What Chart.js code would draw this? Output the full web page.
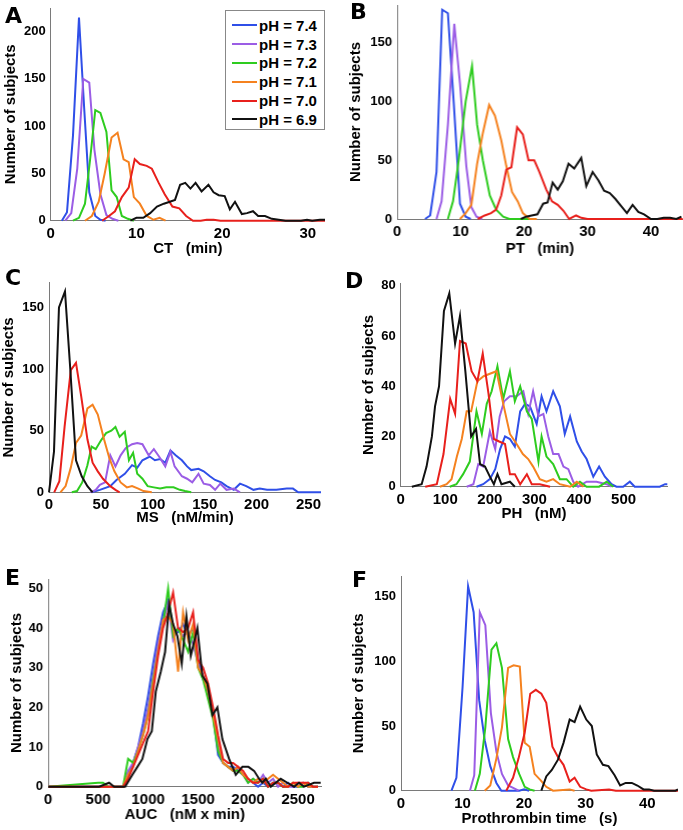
<!DOCTYPE html>
<html>
<head>
<meta charset="utf-8">
<script src="https://cdn.jsdelivr.net/npm/chart.js@4.4.1/dist/chart.umd.min.js"></script>
<style>
  body { margin: 0; background: #fff; }
  #fig { position: relative; width: 683px; height: 830px; overflow: hidden; font-family: "Liberation Sans", Arial, sans-serif; }
  .panel { position: absolute; }
  .letter { position: absolute; font: bold 22px "DejaVu Sans", sans-serif; line-height: 22px; color: #000; }
  #legend { position: absolute; left: 225px; top: 10px; width: 100px; height: 120px; box-sizing: border-box;
            border: 1px solid #888; background: #fff; padding-top: 5px; }
  #legend .row { height: 18.8px; display: flex; align-items: center; font-weight: bold; font-size: 15px; }
  #legend .swatch { width: 25px; height: 2px; margin-left: 6px; margin-right: 2px; }
</style>
</head>
<body>
<div id="fig"></div>
<script>
(function () {
  const phLabels = ['pH = 7.4', 'pH = 7.3', 'pH = 7.2', 'pH = 7.1', 'pH = 7.0', 'pH = 6.9'];
  const phColors = ['#2f4fe8', '#9b5de5', '#2ecc1f', '#f5821f', '#e8201c', '#111111'];

  /** A: CT (min) */
  const ct74x = [1.3, 1.9, 2.6, 3.3, 3.9, 4.5, 5.2, 5.8, 6.4];
  const ct74y = [0, 9, 90, 215, 120, 30, 5, 1, 0];
  const ct73x = [1.7, 2.4, 3.1, 3.8, 4.5, 5.1, 5.8, 6.5, 7.2, 7.9];
  const ct73y = [0, 8, 55, 150, 146, 75, 28, 6, 2, 0];
  const ct72x = [2.6, 3.3, 4.0, 4.6, 5.2, 5.8, 6.5, 7.1, 7.7, 8.3, 9.0, 9.7];
  const ct72y = [0, 3, 18, 65, 117, 114, 94, 32, 25, 5, 2, 0];
  const ct71x = [4.0, 4.8, 5.6, 6.3, 7.1, 7.8, 8.5, 9.1, 9.7, 10.4, 11.2, 12.0, 12.7, 13.4];
  const ct71y = [0, 5, 20, 50, 88, 93, 65, 62, 25, 18, 5, 1, 3, 0];
  const ct70x = [6.0, 6.8, 7.5, 8.3, 9.1, 9.8, 10.4, 11.2, 11.8, 12.6, 13.3, 14.2, 15.0, 15.8, 16.6, 17.5, 18.2, 19.0, 19.8, 32];
  const ct70y = [0, 5, 10, 25, 35, 65, 60, 58, 55, 40, 28, 15, 13, 5, 0, 0, 1, 1, 0, 0];
  const ct69x = [9.3, 10.0, 10.8, 11.6, 12.4, 13.2, 13.9, 14.5, 15.1, 15.7, 16.3, 16.9, 17.6, 18.4, 19.0, 19.6, 20.3, 20.9, 21.5, 22.3, 22.9, 23.6, 24.2, 25.0, 25.8, 26.6, 27.4, 29.2, 29.9, 30.5, 31.4, 32];
  const ct69y = [0, 3, 3, 8, 15, 18, 20, 22, 38, 40, 34, 40, 31, 38, 30, 27, 26, 12, 20, 7, 8, 10, 5, 5, 2, 1, 0, 0, 1, 0, 1, 1];
  const ctXTicks = [0, 10, 20, 30];
  const ctYTicks = [0, 50, 100, 150, 200];

  /** B: PT (min) */
  const pt74x = [4.4, 5.2, 6.2, 7.1, 8.0, 8.9, 9.9, 10.8, 11.6];
  const pt74y = [0, 3, 40, 178, 175, 100, 13, 2, 0];
  const pt73x = [6.2, 7.0, 8.0, 9.0, 9.9, 10.9, 11.7, 12.5, 13.4];
  const pt73y = [0, 15, 80, 166, 115, 45, 10, 2, 0];
  const pt72x = [8.0, 8.8, 9.7, 10.8, 11.8, 12.6, 13.5, 14.6, 15.6, 16.7, 17.7, 21.6];
  const pt72y = [0, 15, 50, 100, 130, 80, 50, 20, 8, 2, 0, 0];
  const pt71x = [9.9, 10.8, 11.7, 12.6, 13.5, 14.5, 15.4, 16.4, 17.2, 18.1, 19.0, 19.8, 20.9, 22.0];
  const pt71y = [0, 5, 12, 47, 73, 97, 88, 67, 45, 23, 15, 5, 0, 0];
  const pt70x = [12.7, 13.8, 14.8, 15.6, 16.4, 17.2, 18.0, 18.9, 19.8, 20.7, 21.6, 22.4, 23.5, 24.4, 25.3, 26.2, 27.1, 28.2, 29.0, 30.0, 45];
  const pt70y = [0, 3, 5, 8, 20, 42, 44, 78, 72, 50, 50, 40, 25, 15, 12, 7, 0, 3, 1, 0, 0];
  const pt69x = [19.5, 20.3, 21.2, 22.1, 23.0, 23.7, 24.5, 25.3, 26.1, 27.0, 27.9, 29.0, 29.8, 30.8, 31.7, 32.6, 33.5, 34.4, 35.3, 36.2, 37.1, 38.0, 38.9, 40.0, 41.0, 42.0, 43.0, 44.0, 44.8];
  const pt69y = [0, 2, 3, 4, 13, 14, 31, 25, 32, 47, 43, 52, 28, 40, 33, 24, 22, 17, 11, 5, 12, 6, 4, 0, 0, 1, 1, 0, 2];
  const ptXTicks = [0, 10, 20, 30, 40];
  const ptYTicks = [0, 50, 100, 150];

  /** C: MS (nM/min) */
  const ms74x = [41, 49, 59, 65, 73, 80, 85, 90, 97, 102, 107, 112, 117, 122, 128, 133, 137, 144, 149, 155, 160, 166, 171, 178, 184, 190, 197, 203, 210, 219, 229, 235, 240, 262];
  const ms74y = [0, 2, 5, 10, 15, 22, 20, 26, 29, 26, 27, 24, 34, 30, 26, 21, 18, 19, 17, 13, 10, 8, 5, 2, 7, 5, 2, 3, 2, 2, 3, 3, 0, 0];
  const ms73x = [40, 45, 49, 54, 59, 64, 69, 74, 80, 85, 90, 96, 101, 106, 112, 117, 121, 128, 133, 138, 144, 149, 155, 160, 165, 171, 178, 184];
  const ms73y = [0, 2, 6, 8, 30, 21, 30, 36, 39, 40, 39, 30, 35, 29, 21, 33, 21, 13, 11, 8, 15, 7, 6, 2, 7, 2, 3, 0];
  const ms72x = [22, 27, 32, 37, 41, 45, 50, 55, 60, 64, 68, 73, 77, 81, 85, 90, 95, 101, 107, 113, 120, 126, 131, 137];
  const ms72y = [0, 1, 8, 22, 37, 35, 42, 48, 50, 53, 45, 49, 26, 32, 15, 11, 5, 4, 3, 4, 4, 2, 1, 0];
  const ms71x = [11, 16, 21, 26, 31, 37, 42, 47, 53, 58, 63, 69, 75, 80, 86, 91, 99];
  const ms71y = [0, 5, 20, 40, 46, 68, 71, 63, 43, 28, 17, 8, 4, 5, 3, 1, 0];
  const ms70x = [5, 10, 15, 21, 26, 31, 37, 42, 47, 52, 59, 64, 68];
  const ms70y = [0, 9, 53, 99, 105, 78, 43, 24, 17, 11, 5, 2, 0];
  const ms69x = [0, 4.8, 9.6, 15.4, 20.5, 26, 31.5, 37, 42];
  const ms69y = [0, 33, 150, 163, 100, 26, 13, 5, 0];
  const msXTicks = [0, 50, 100, 150, 200, 250];
  const msYTicks = [0, 50, 100, 150];

  /** D: PH (nM) */
  const ph74x = [170, 185, 200, 212, 223, 234, 245, 256, 268, 279, 290, 305, 316, 327, 342, 357, 368, 380, 395, 406, 417, 432, 445, 458, 473, 484, 499, 514, 525, 537, 581, 593, 598];
  const ph74y = [0, 1, 3, 7, 15, 20, 19, 16, 30, 33, 32, 25, 36, 30, 38, 32, 21, 28, 18, 14, 11, 4, 8, 4, 1, 0, 0, 2, 0, 0, 0, 1, 1];
  const ph73x = [148, 163, 174, 185, 200, 212, 222, 232, 245, 260, 275, 286, 297, 309, 320, 331, 342, 354, 365, 376, 387, 398, 417, 439, 462, 473];
  const ph73y = [0, 1, 9, 8, 22, 15, 28, 34, 36, 36, 38, 29, 38, 28, 29, 20, 13, 13, 8, 7, 2, 0, 2, 2, 1, 0];
  const ph72x = [110, 125, 140, 155, 170, 182, 193, 204, 217, 230, 245, 256, 268, 283, 294, 309, 316, 327, 342, 357, 372, 387, 402, 417, 445, 462, 477];
  const ph72y = [0, 1, 5, 10, 30, 21, 33, 38, 48, 35, 46, 34, 40, 30, 27, 10, 20, 12, 9, 3, 3, 0, 2, 0, 0, 2, 0];
  const ph71x = [88, 103, 114, 126, 137, 148, 158, 172, 186, 200, 215, 230, 245, 260, 274, 286, 297, 312, 327, 342, 357, 380, 395, 410];
  const ph71y = [0, 1, 3, 12, 19, 30, 30, 42, 44, 45, 46, 33, 21, 17, 13, 11, 8, 3, 2, 3, 1, 0, 2, 0];
  const ph70x = [55, 81, 96, 111, 122, 133, 146, 159, 172, 184, 197, 209, 221, 234, 245, 256, 268, 283, 294, 312, 335];
  const ph70y = [0, 1, 13, 35, 29, 58, 57, 46, 42, 53, 37, 19, 18, 17, 5, 5, 1, 5, 1, 1, 0];
  const ph69x = [25, 47, 58, 70, 77, 86, 97, 109, 122, 133, 145, 158, 169, 178, 189, 200, 209, 217, 226, 245, 256];
  const ph69y = [0, 1, 8, 20, 32, 40, 70, 77, 57, 68, 46, 20, 23, 9, 8, 4, 1, 5, 1, 2, 0];
  const phXTicks = [0, 100, 200, 300, 400, 500];
  const phYTicks = [0, 20, 40, 60, 80];

  /** E: AUC (nM x min) */
  const aucBins = [0, 500, 550, 600, 650, 700, 750, 800, 850, 900, 950, 1000, 1050, 1100, 1150, 1200, 1250, 1300, 1350, 1400, 1450,
    1500, 1550, 1600, 1650, 1700, 1750, 1800, 1850, 1900, 1950, 2000, 2050, 2100, 2150, 2200, 2250, 2300, 2350, 2400, 2450,
    2500, 2550, 2600, 2650, 2700];
  const auc74y = [0, 0, 0, 0, 0, 0, 0, 3, 6, 10, 16, 23, 31, 38, 44, 47, 40, 39, 41, 38, 40, 32, 27, 25, 18, 8, 6, 5, 5, 4, 3, 2, 1, 0, 1, 0, 1, 1, 0, 1, 0, 0, 1, 0, 0, 0];
  const auc73y = [0, 0, 0, 0, 0, 0, 0, 4, 6, 10, 14, 20, 28, 36, 42, 46, 37, 40, 38, 39, 36, 31, 28, 24, 18, 10, 6, 5, 4, 5, 3, 1, 2, 1, 3, 1, 2, 0, 1, 0, 0, 1, 0, 1, 0, 0];
  const auc72y = [0, 1, 1, 0, 0, 0, 0, 7, 6, 9, 13, 18, 27, 34, 41, 50, 38, 40, 37, 34, 39, 30, 27, 22, 17, 9, 6, 5, 4, 4, 3, 1, 2, 1, 2, 0, 1, 1, 0, 0, 1, 0, 0, 1, 0, 0];
  const auc71y = [0, 0, 0, 0, 0, 0, 0, 3, 5, 9, 13, 18, 26, 34, 42, 43, 41, 29, 44, 37, 41, 30, 28, 24, 18, 12, 6, 5, 4, 5, 3, 2, 1, 2, 1, 2, 3, 2, 1, 0, 1, 0, 1, 0, 0, 0];
  const auc70y = [0, 0, 0, 0, 0, 0, 0, 2, 5, 8, 11, 14, 24, 33, 40, 44, 49, 40, 39, 40, 44, 32, 30, 26, 20, 13, 7, 6, 6, 5, 4, 2, 1, 1, 2, 0, 1, 1, 0, 0, 1, 1, 1, 1, 0, 0];
  const auc69x = [0, 510, 610, 660, 770, 843, 893, 943, 993, 1037, 1077, 1127, 1170, 1210, 1250, 1293, 1337, 1383, 1427, 1493,
    1543, 1593, 1643, 1693, 1743, 1810, 1877, 1943, 2003, 2060, 2110, 2143, 2177, 2227, 2327, 2393, 2460, 2510, 2560, 2660, 2727];
  const auc69y = [0, 0, 1, 0, 0, 3, 5, 7, 12, 14, 24, 29, 34, 46, 41, 38, 31, 43, 33, 40,
    28, 26, 18, 20, 12, 7, 3, 5, 5, 4, 2, 1, 2, 0, 2, 1, 0, 1, 0, 1, 1];
  const aucXTicks = [0, 500, 1000, 1500, 2000, 2500];
  const aucYTicks = [0, 10, 20, 30, 40, 50];

  /** F: Prothrombin time (s) */
  const pro74x = [8.2, 9.0, 10.0, 10.9, 11.8, 12.7, 13.6, 14.5, 15.5, 16.3, 19.2, 20.0, 20.8];
  const pro74y = [0, 10, 80, 158, 138, 70, 39, 19, 6, 0, 0, 1, 0];
  const pro73x = [11.2, 11.9, 12.8, 13.7, 14.6, 15.5, 16.4, 17.4, 18.3, 19.1];
  const pro73y = [0, 12, 138, 128, 60, 30, 13, 4, 2, 0];
  const pro72x = [12.0, 12.8, 13.7, 14.7, 15.5, 16.4, 17.4, 18.2, 19.2, 20.1, 20.9, 21.7];
  const pro72y = [0, 13, 49, 109, 114, 95, 40, 26, 13, 3, 1, 0];
  const pro71x = [13.6, 14.5, 15.5, 16.4, 17.4, 18.3, 19.3, 20.1, 20.9, 21.7, 22.7, 23.6, 24.7, 27.4, 28.2];
  const pro71y = [0, 4, 25, 49, 95, 97, 96, 37, 34, 13, 8, 3, 0, 1, 0];
  const pro70x = [17.1, 18.2, 19.1, 20.1, 21.0, 21.9, 22.8, 23.6, 24.6, 25.5, 26.4, 27.4, 28.2, 29.1, 30.1, 30.9, 33.8, 34.9, 45];
  const pro70y = [0, 10, 25, 45, 75, 78, 75, 68, 34, 26, 20, 7, 10, 3, 1, 0, 1, 0, 0];
  const pro69x = [22.8, 23.6, 24.5, 25.5, 26.4, 27.4, 28.2, 29.1, 30.1, 31.0, 31.8, 32.8, 33.7, 34.7, 35.6, 36.5, 37.5, 38.4, 39.4, 40.3, 41.1, 44.6, 45];
  const pro69y = [0, 11, 16, 24, 37, 55, 53, 65, 55, 50, 28, 20, 19, 12, 4, 6, 6, 4, 1, 1, 0, 0, 1];
  const proXTicks = [0, 10, 20, 30, 40];
  const proYTicks = [0, 50, 100, 150];

  const FONT = '"Liberation Sans", Arial, sans-serif';
  const AXIS_COLOR = '#7a7a7a';
  const fig = document.getElementById('fig');

  const panels = [
    { letter: 'A', lx: 5, ly: 4.7, left: 2, top: 0, width: 323, height: 258, padTop: 8, yw: 48.7, xh: 37.3,
      xMax: 32, yMax: 225, xTicks: ctXTicks, yTicks: ctYTicks, xTitle: 'CT   (min)',
      series: [[ct74x, ct74y], [ct73x, ct73y], [ct72x, ct72y], [ct71x, ct71y], [ct70x, ct70y], [ct69x, ct69y]] },
    { letter: 'B', lx: 350, ly: 0.7, left: 347.3, top: 0, width: 335.7, height: 258, padTop: 5, yw: 50, xh: 39,
      xMax: 45, yMax: 182, xTicks: ptXTicks, yTicks: ptYTicks, xTitle: 'PT   (min)',
      series: [[pt74x, pt74y], [pt73x, pt73y], [pt72x, pt72y], [pt71x, pt71y], [pt70x, pt70y], [pt69x, pt69y]] },
    { letter: 'C', lx: 5, ly: 267.4, left: 0, top: 270, width: 321, height: 257, padTop: 12.7, yw: 49, xh: 34.7,
      xMax: 262, yMax: 170, xTicks: msXTicks, yTicks: msYTicks, xTitle: 'MS   (nM/min)',
      series: [[ms74x, ms74y], [ms73x, ms73y], [ms72x, ms72y], [ms71x, ms71y], [ms70x, ms70y], [ms69x, ms69y]] },
    { letter: 'D', lx: 345, ly: 270, left: 360, top: 270, width: 308.3, height: 253, padTop: 13.3, yw: 40.7, xh: 36.3,
      xMax: 598, yMax: 81, xTicks: phXTicks, yTicks: phYTicks, xTitle: 'PH   (nM)',
      series: [[ph74x, ph74y], [ph73x, ph73y], [ph72x, ph72y], [ph71x, ph71y], [ph70x, ph70y], [ph69x, ph69y]] },
    { letter: 'E', lx: 5, ly: 567.4, left: 8.3, top: 570, width: 313.5, height: 254, padTop: 9.3, yw: 40, xh: 37.3,
      xMax: 2735, yMax: 52.3, xTicks: aucXTicks, yTicks: aucYTicks, xTitle: 'AUC   (nM x min)',
      series: [[aucBins, auc74y], [aucBins, auc73y], [aucBins, auc72y], [aucBins, auc71y], [aucBins, auc70y], [auc69x, auc69y]] },
    { letter: 'F', lx: 352, ly: 569.4, left: 350, top: 566, width: 328, height: 262, padTop: 10, yw: 51, xh: 37.3,
      xMax: 45, yMax: 166, xTicks: proXTicks, yTicks: proYTicks, xTitle: 'Prothrombin time   (s)',
      series: [[pro74x, pro74y], [pro73x, pro73y], [pro72x, pro72y], [pro71x, pro71y], [pro70x, pro70y], [pro69x, pro69y]] },
  ];

  function zeroPad(scale) {
    scale.paddingLeft = 0; scale.paddingRight = 0; scale.paddingTop = 0; scale.paddingBottom = 0;
  }

  function plainLabel(v) {
    return String(v); // no thousands separator
  }

  function makePanel(p) {
    const box = document.createElement('div');
    box.className = 'panel';
    box.style.left = p.left + 'px';
    box.style.top = p.top + 'px';
    box.style.width = p.width + 'px';
    box.style.height = p.height + 'px';
    const cv = document.createElement('canvas');
    box.appendChild(cv);
    fig.appendChild(box);

    const n = p.series.length;
    new Chart(cv, {
      type: 'line',
      data: {
        datasets: p.series.map(([xs, ys], i) => ({
          label: phLabels[i],
          data: xs.map((x, k) => ({ x, y: ys[k] })),
          borderColor: phColors[i],
          borderWidth: 2,
          pointRadius: 0,
          tension: 0,
          fill: false,
          clip: false,
          order: n - i, // last series (pH 6.9) drawn on top
        })),
      },
      options: {
        responsive: true,
        maintainAspectRatio: false,
        animation: false,
        events: [],
        layout: { padding: { left: 0, right: 0, top: p.padTop, bottom: 0 } },
        plugins: { legend: { display: false }, tooltip: { enabled: false } },
        scales: {
          x: {
            type: 'linear', min: 0, max: p.xMax,
            grid: { display: false, drawTicks: false },
            border: { color: AXIS_COLOR, width: 1 },
            ticks: { includeBounds: false, padding: 4, maxRotation: 0, autoSkip: false, color: '#000',
                     callback: plainLabel, font: { family: FONT, size: 15, weight: 'bold' } },
            afterBuildTicks: s => { s.ticks = p.xTicks.map(v => ({ value: v })); },
            afterFit: s => { s.height = p.xh; zeroPad(s); },
            title: { display: true, text: p.xTitle, color: '#000', padding: { top: 0, bottom: 0 },
                     font: { family: FONT, size: 15, weight: 'bold', lineHeight: 1.2 } },
          },
          y: {
            type: 'linear', min: 0, max: p.yMax,
            grid: { display: false, drawTicks: false },
            border: { color: AXIS_COLOR, width: 1 },
            ticks: { includeBounds: false, padding: 5, autoSkip: false, color: '#000',
                     callback: plainLabel, font: { family: FONT, size: 13, weight: 'bold' } },
            afterBuildTicks: s => { s.ticks = p.yTicks.map(v => ({ value: v })); },
            afterFit: s => { s.width = p.yw; zeroPad(s); },
            title: { display: true, text: 'Number of subjects', color: '#000', padding: { top: 0, bottom: 0 },
                     font: { family: FONT, size: 15, weight: 'bold', lineHeight: 1.2 } },
          },
        },
      },
    });

    const letter = document.createElement('div');
    letter.className = 'letter';
    letter.style.left = p.lx + 'px';
    letter.style.top = p.ly + 'px';
    letter.textContent = p.letter;
    fig.appendChild(letter);
  }

  panels.forEach(makePanel);

  // legend of panel A
  const legend = document.createElement('div');
  legend.id = 'legend';
  phLabels.forEach((label, i) => {
    const row = document.createElement('div');
    row.className = 'row';
    const sw = document.createElement('span');
    sw.className = 'swatch';
    sw.style.background = phColors[i];
    const txt = document.createElement('span');
    txt.textContent = label;
    row.appendChild(sw);
    row.appendChild(txt);
    legend.appendChild(row);
  });
  fig.appendChild(legend);
})();
</script>
</body>
</html>
